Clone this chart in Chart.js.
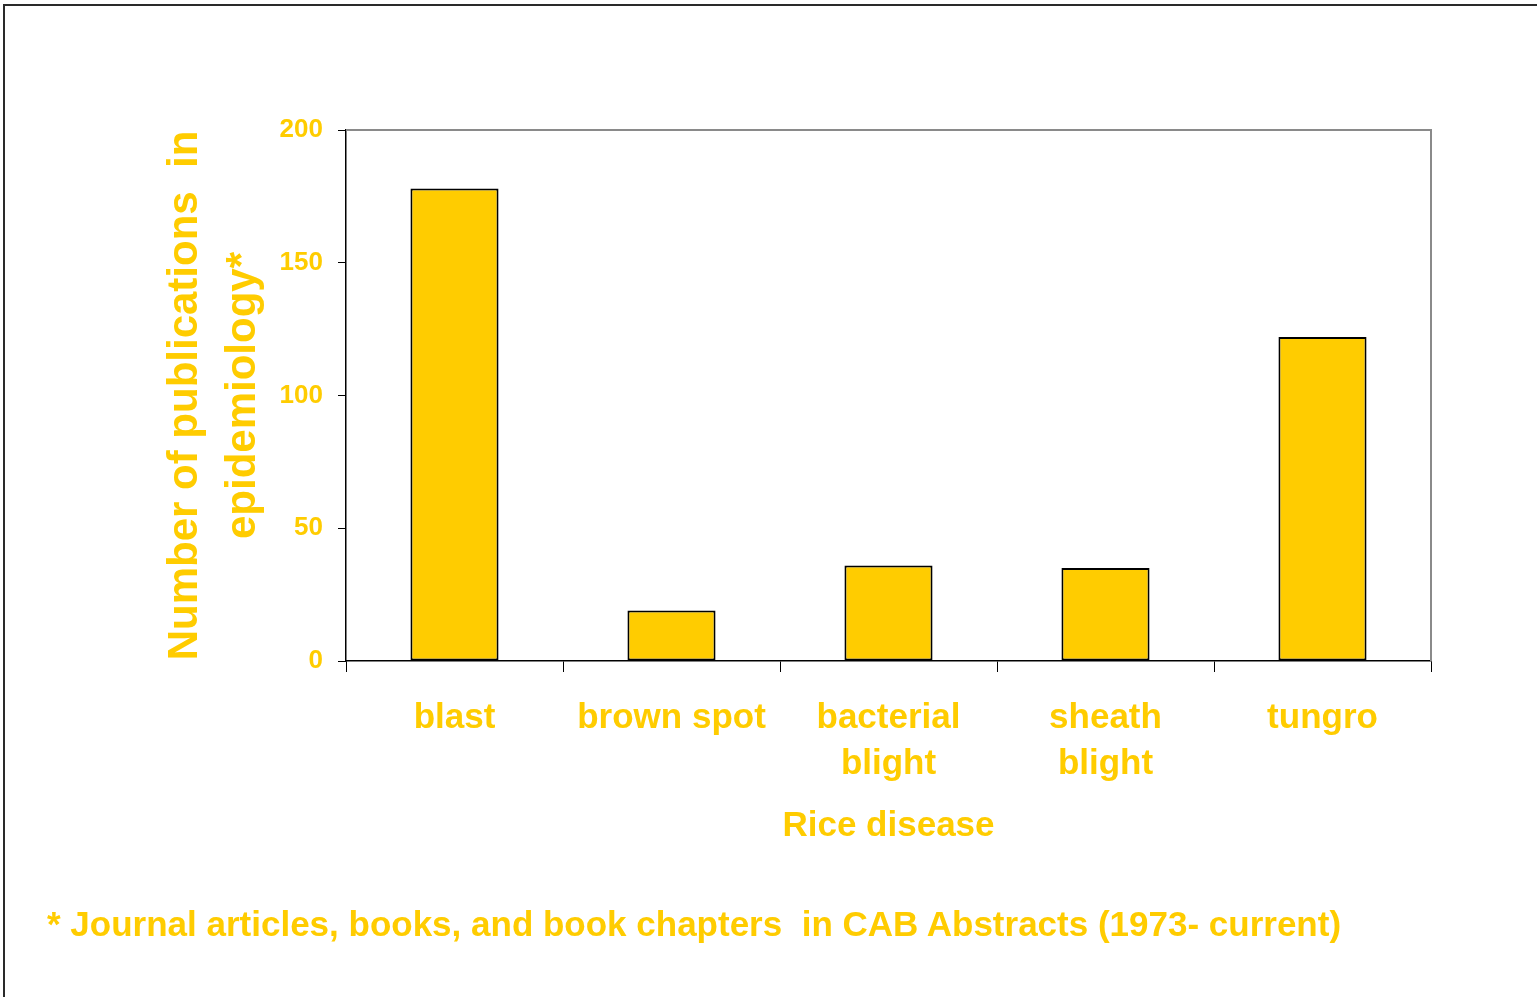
<!DOCTYPE html>
<html lang="en">
<head>
    <meta charset="UTF-8">
    <title>Rice disease publications</title>
    <style>
        html, body { margin: 0; padding: 0; background: #fff; overflow: hidden; }
        /* page frame */
        #frame {
            position: absolute; left: 3px; top: 4px;
            width: 1700px; height: 1200px;
            border-left: 2px solid #2a2a2a; border-top: 2px solid #2a2a2a;
        }
        #grafico { position: absolute; left: 0; top: 0; }
        #nota {
            position: absolute; left: 47px; top: 903px;
            font: bold 35px "Liberation Sans", Arial, sans-serif;
            color: #FFCC00; white-space: pre; line-height: 42px;
        }
    </style>
    <script src="https://cdn.jsdelivr.net/npm/chart.js"></script>
</head>
<body>
    <div id="frame"></div>
    <canvas id="grafico" width="1537" height="997"></canvas>
    <div id="nota">* Journal articles, books, and book chapters  in CAB Abstracts (1973- current)</div>

    <script>
        // dados
        const doencas = [['blast'], ['brown spot'], ['bacterial', 'blight'], ['sheath', 'blight'], ['tungro']];
        const publicacoes = [178, 19, 36, 35, 122];
        const yTicks = [0, 50, 100, 150, 200];

        const amarelo = '#FFCC00';
        const fonte = '"Liberation Sans", Arial, sans-serif';

        // linhas cinzas em cima e à direita da área do gráfico
        const molduraPlot = {
            id: 'molduraPlot',
            afterDraw(chart) {
                const a = chart.chartArea;
                const ctx = chart.ctx;
                ctx.save();
                ctx.strokeStyle = '#8a8a8a';
                ctx.lineWidth = 2;
                ctx.beginPath();
                ctx.moveTo(a.left, a.top);
                ctx.lineTo(a.right, a.top);
                ctx.lineTo(a.right, a.bottom);
                ctx.stroke();
                ctx.restore();
            }
        };

        new Chart(document.getElementById('grafico'), {
            type: 'bar',
            data: {
                labels: doencas,
                datasets: [{
                    data: publicacoes,
                    backgroundColor: amarelo,
                    borderColor: '#000',
                    borderWidth: 2,
                    borderSkipped: false,
                    categoryPercentage: 1,
                    barPercentage: 0.406
                }]
            },
            options: {
                responsive: false,
                animation: false,
                layout: { padding: { top: 130, right: 106, left: 0, bottom: 0 } },
                plugins: { legend: { display: false }, tooltip: { enabled: false } },
                scales: {
                    x: {
                        afterFit(s) { s.height = 336; },
                        grid: { drawOnChartArea: false, tickLength: 11, tickColor: '#000', offset: true },
                        border: { color: '#000', width: 1.5 },
                        ticks: {
                            color: amarelo, padding: 23, maxRotation: 0, autoSkip: false,
                            font: { family: fonte, size: 35, weight: 'bold', lineHeight: 1.314 }
                        },
                        title: {
                            display: true, text: 'Rice disease', color: amarelo,
                            font: { family: fonte, size: 35, weight: 'bold', lineHeight: 1.2 },
                            padding: { top: 0, bottom: 150 }
                        }
                    },
                    y: {
                        min: 0, max: 200,
                        afterFit(s) { s.width = 346; },
                        afterBuildTicks(s) { s.ticks = yTicks.map(v => ({ value: v })); },
                        grid: { drawOnChartArea: false, tickLength: 8, tickColor: '#000' },
                        border: { color: '#000', width: 1.5 },
                        ticks: {
                            color: amarelo, padding: 15,
                            font: { family: fonte, size: 26, weight: 'bold' }
                        },
                        title: {
                            display: true, text: ['Number of publications  in', 'epidemiology*'], color: amarelo,
                            font: { family: fonte, size: 42, weight: 'bold', lineHeight: 1.38 },
                            padding: { top: 156, bottom: 0 }
                        }
                    }
                }
            },
            plugins: [molduraPlot]
        });
    </script>
</body>
</html>
